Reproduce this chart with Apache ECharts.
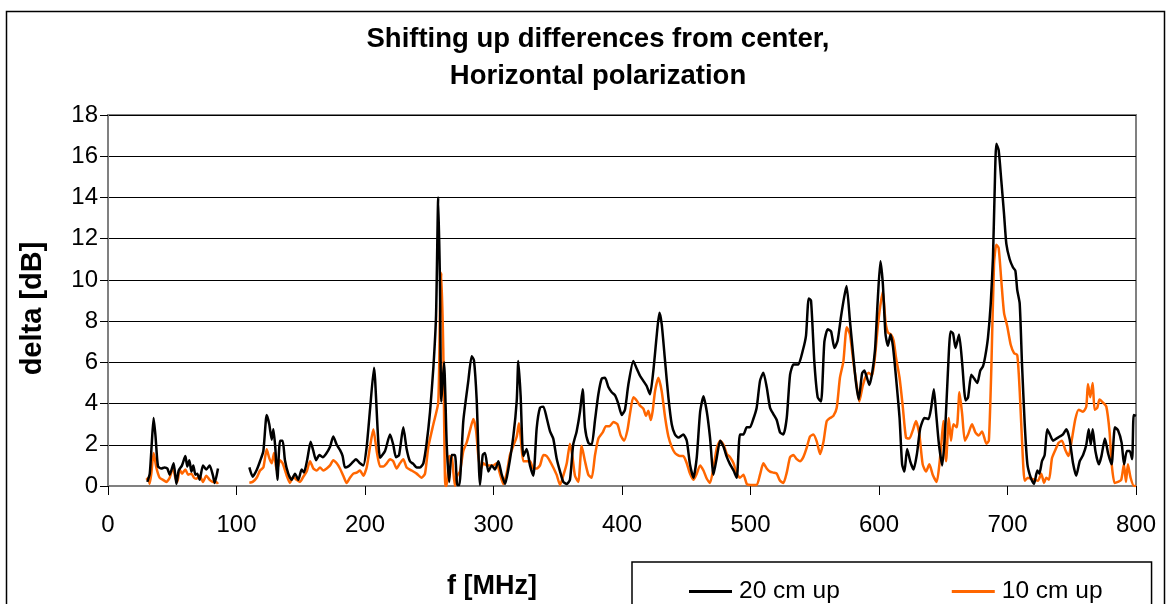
<!DOCTYPE html>
<html><head><meta charset="utf-8">
<script src="https://cdn.jsdelivr.net/npm/echarts@6/dist/echarts.min.js"></script>
<style>html,body{margin:0;padding:0;background:#fff}#c{width:1166px;height:604px}</style>
</head><body><div id="c"></div>
<script>
var seriesNames = ['20 cm up', '10 cm up'];
var xTicks = [0,100,200,300,400,500,600,700,800];
var yTicks = [0,2,4,6,8,10,12,14,16,18];

// "20 cm up" (black): frequency [MHz] and delta [dB]; '-' marks the gap
var freq20 = [30.6,32.5,34,35.5,37,38.9,41.5,44,46.2,48,51.1,53.2,55,57.6,60.2,61.7,63.3,64.9,66.4,68,69.5,71.3,73.9,76.5,79.1,81.7,83,85.6,
  97,
  110,112.6,115.7,118.3,120.9,123.5,125.5,127.4,128.7,130.2,131.8,133.9,135.9,137.7,140.3,142.9,145.5,148.1,150.7,152.5,155.1,157.7,159.8,161.9,164.5,167.1,169.6,172.8,175.3,178,180.5,182.6,184.4,187,189.6,193,196.1,198.7,201.3,203.9,207,211.7,215.6,219.5,222,224.1,226.5,229.8,232.4,235,237.6,240.2,242.8,245.4,248,250.6,253.2,255.3,257,258.3,259.4,261.5,263.6,265.5,267.4,270,271.8,273.4,276.5,280.4,283,284.8,286.9,289.5,291.6,293.4,296,298.6,301.2,303.8,306.4,309,311.5,315.4,318.1,319.3,321.1,323.2,325.8,328.4,331,333.6,336.2,338.8,341.4,344,346.5,349.1,351.8,354.3,357,359.5,362,364.7,367.3,369.4,371.2,373.8,376.4,379,381.6,384.2,386.8,389.4,392,394.6,397.1,399.8,402.3,404.9,408.8,411.4,414,416.6,419.2,421.8,424.4,427.1,429.1,430.9,433.5,436.1,438.7,441.2,443.9,447.7,450.4,452.9,455.6,458.2,460.8,463.4,466,468.5,471.2,473.8,476.4,479,481.6,484.1,486.8,489.3,491.8,494.5,497.1,499.6,502.2,504.8,507.4,510,512.6,515.2,517.7,520.4,523,525.6,528.2,530.8,533.4,535.4,537.3,540.6,543.2,545.3,547.1,549.7,552.3,554.9,557.5,560.1,562.7,565.3,567.8,570.4,573,574.8,577.4,580,582.1,584.2,586.8,588.6,590.4,592.5,594.6,596.9,599,601.1,603,605,606.9,609,610.8,613.2,616,618,619.8,621.9,624.3,626.9,629.5,632.1,635.4,638.5,640.6,642.7,644.5,646.6,649.2,651.3,653.6,655.7,657.6,659.6,662.3,664.8,667.4,669.3,671.8,674.2,676.5,678.8,680.9,682.7,684.8,686.9,688.7,690,691.3,693.1,695.2,697.3,699.1,701.7,704.3,706.1,707.6,709.5,711.3,713.4,715.5,718.1,720.6,723.2,724.8,726.8,728.9,730.9,733,735.4,738,740.6,743.2,745.8,748.4,751,753.5,756.2,758.8,761.3,763.2,764.8,766.3,768.4,771.1,773.1,775.8,778.4,781,783.6,786,788.8,790.7,792.9,795.1,797,798.2,800];
var delta20 = [0.2,0.6,2.0,3.3,2.4,0.95,0.85,0.9,0.85,0.55,1.1,0.1,0.75,1.0,1.45,0.95,1.25,0.7,1.0,0.55,0.6,0.3,1.0,0.8,1.0,0.5,0.15,0.85,
  '-',
  0.9,0.45,0.78,1.2,1.7,3.45,3.0,2.25,2.75,1.85,0.3,2.2,2.2,1.25,0.6,0.3,0.6,0.3,0.8,0.65,1.3,2.15,1.7,1.25,1.5,1.4,1.55,1.9,2.4,2.0,1.75,1.45,0.9,0.95,1.1,1.3,1.1,1.0,1.9,3.7,5.74,1.37,1.7,2.5,2.0,1.4,1.5,2.85,1.8,1.2,1.07,0.9,0.9,1.1,2.1,3.6,5.74,8.3,14.0,10.0,4.1,6.0,2.0,0.2,1.5,1.5,0.05,0.05,3.15,5.1,6.3,6.1,4.2,0.05,1.5,1.6,0.7,1.0,0.8,1.2,0.55,0.1,0.8,2.4,4.15,6.07,4.4,1.45,1.8,1.0,0.5,2.8,3.8,3.85,3.3,2.65,2.3,1.35,0.7,0.2,0.1,0.3,2.0,2.65,3.6,4.7,2.85,2.1,2.0,3.2,4.45,5.2,5.25,4.8,4.55,4.4,4.0,3.45,3.7,4.9,6.07,5.7,5.35,5.1,4.85,4.45,5.6,7.36,8.4,7.85,6.07,4.3,3.0,2.5,2.35,2.5,2.2,1.05,0.4,1.4,3.6,4.35,3.6,2.35,0.55,1.4,2.2,1.9,1.4,1.05,0.75,0.4,2.5,2.5,2.85,2.85,3.25,3.8,5.1,5.5,4.8,3.8,3.5,3.2,2.6,2.5,3.3,5.4,5.9,5.9,5.9,6.55,7.3,9.1,9.0,6.0,4.3,4.1,7.0,7.6,7.5,6.7,7.05,8.2,9.2,9.7,8.0,6.3,5.0,4.2,5.45,5.6,5.3,4.9,5.45,6.6,9.0,10.9,9.8,7.4,6.8,7.35,6.8,5.3,3.3,1.05,0.7,1.8,1.2,0.8,1.55,2.8,3.3,3.25,3.8,4.7,3.5,2.05,1.0,2.5,5.5,7.5,7.4,6.7,7.35,5.9,4.15,4.3,5.4,5.2,5.0,5.6,5.8,6.3,7.2,8.8,11.1,14.3,16.6,16.3,14.8,13.2,11.75,11.0,10.6,10.45,9.5,8.85,5.9,3.0,1.05,0.4,0.1,0.75,0.6,1.2,1.5,2.75,2.5,2.2,2.3,2.4,2.5,2.75,2.25,1.1,0.5,1.2,1.5,2.0,2.75,2.0,2.75,1.7,1.05,1.45,2.3,1.55,1.05,2.85,2.7,2.1,1.05,1.7,1.7,1.3,3.45,3.4];

// "10 cm up" (orange)
var freq10 = [29.8,31.6,32.4,33.7,35.5,37.6,40.2,42.8,45.4,48,50.6,52.4,54,55.8,57.6,60.2,62.3,64.9,66.9,68.7,71.3,73.9,76.5,79.1,81.7,84.3,85.6,
  97,
  110,112.6,115.7,118.3,120.9,123.5,125.5,127.4,129.2,131.3,133.9,135.9,139.1,141.6,144.2,146.8,149.4,152,154.6,157.2,159.8,162.4,165,167.6,170.2,172.8,175.3,178,180.5,183.1,185.7,188.3,190.9,193.5,196.1,198.7,201.3,203.9,206.5,209.1,211.7,214.3,216.9,219.5,222,224.6,227.2,229.8,232.4,236.3,240.2,244.1,246.7,249.3,253.2,257,258.3,259.4,260.9,262.5,263.6,265.6,267.6,270,271.8,273.9,276.5,279.1,281.7,284.3,286.4,288.2,290,292.1,294.7,297.3,299.9,302.5,305,307.6,310.2,312.8,315.4,318.1,319.8,321.1,323.2,325.8,328.4,331,333.6,336.2,338.8,341.4,344,346.5,349.1,351.8,354.3,357,359.5,361.6,363.4,366,368.6,371.2,373.8,376.4,379,381.6,385,387.5,390.3,393.3,396.4,399,401.6,404.2,406.2,408.8,411.4,414,416.6,418.7,420.5,422.4,423.9,425.7,428.3,430.9,433.5,436.1,438.7,441.2,445.1,447.7,450.4,452.9,455.6,458.2,460.8,463.4,466,468.5,471.2,473.8,476.4,479,481.6,484.1,486.8,489.3,491.8,494.5,497.1,500,504.8,507.4,510,512.6,515.2,517.7,520.4,523,525.6,528.2,530.8,533.4,536,538.5,541.1,543.7,546.3,548.9,551.6,554.1,556.8,559.3,561.9,564.5,567.1,569.6,572.3,574.9,577.4,580,582.6,584.7,587.3,589.9,592,594.6,596.9,599,600.8,603,605,606.9,609.3,611.4,613.2,616,618.5,621,623.6,626.3,628.8,631.4,634,636.6,639.2,641.8,644.9,647,648.5,650.1,652.2,654.3,656,657.9,660.5,662.6,664.7,666.8,669.3,672.4,675,677.6,680.2,683.6,685.5,687.5,689.5,691.3,693.1,695.2,697.3,699.8,702.5,705.1,707.6,709.5,711.3,713.4,715.9,718.5,721.1,723.7,726.3,728.4,730.2,732.3,734.6,737.2,739.8,742.4,745,747.6,750.2,752.8,755.4,758.8,761.3,762.6,764.4,766.3,767.8,769.9,771.6,774.3,776.9,779.4,781.1,783.3,785.9,788.5,790.6,792.2,793.7,795.8,798.4,800];
var delta10 = [0.3,0.4,0.1,0.6,1.6,0.9,0.4,0.3,0.2,0.4,0.9,0.4,0.2,0.8,0.6,0.8,0.55,0.6,0.4,0.35,0.5,0.2,0.5,0.3,0.2,0.2,0.1,
  '-',
  0.16,0.2,0.4,0.75,0.9,1.78,1.35,1.1,1.6,0.75,1.25,1.1,0.5,0.15,0.45,0.3,0.2,0.45,0.7,1.2,0.85,0.75,0.9,0.75,0.85,1.0,1.25,1.1,0.85,0.5,0.15,0.4,0.6,0.65,0.75,0.5,0.9,1.9,2.75,1.7,0.95,0.95,1.1,1.3,1.2,0.85,1.1,1.3,0.9,0.75,0.6,0.4,0.6,1.9,3.0,4.05,8.35,10.35,6.7,0.0,0.0,1.45,1.4,0.0,0.5,0.7,1.7,2.1,2.7,3.25,2.7,1.45,0.8,1.1,1.0,1.0,1.0,1.1,0.6,0.1,0.6,1.5,1.95,2.4,3.05,2.4,1.2,1.2,1.2,0.85,0.85,1.0,1.5,1.45,1.2,0.9,0.55,0.05,0.5,1.1,2.05,1.35,0.5,0.2,1.95,1.2,0.55,0.4,1.5,2.3,2.6,2.9,2.9,3.1,3.0,2.45,2.2,2.7,3.5,4.3,4.15,3.9,3.75,3.4,3.65,3.2,3.65,4.6,5.25,4.6,3.35,2.4,1.9,1.6,1.45,1.45,1.1,0.6,0.3,0.6,1.0,0.75,0.35,0.15,0.9,1.85,2.2,2.0,1.55,1.4,1.1,0.6,0.4,0.55,0.1,0.05,0.05,0.55,1.1,0.85,0.7,0.65,0.6,0.25,0.15,0.65,1.4,1.5,1.3,1.2,1.4,1.85,2.4,2.5,2.15,1.55,2.15,3.15,3.3,3.4,3.8,5.25,6.05,7.7,7.35,6.05,4.9,4.1,4.85,5.35,5.5,5.35,6.3,7.7,8.65,9.45,8.0,7.45,7.35,7.05,6.25,5.25,3.85,2.35,2.3,2.7,3.15,2.5,1.05,0.7,1.05,0.55,0.2,1.05,2.05,3.15,1.2,3.3,2.2,3.0,2.85,4.55,3.5,2.2,2.5,3.0,2.6,2.45,2.65,2.05,2.2,5.9,10.75,11.7,11.55,9.95,8.4,7.75,6.85,6.45,6.35,4.6,2.2,0.25,0.4,0.35,0.3,0.25,0.6,0.15,0.4,0.3,1.35,1.75,2.1,2.2,1.75,1.45,2.3,3.25,3.7,3.6,3.85,4.95,4.3,5.0,3.7,3.8,4.2,4.05,3.85,2.65,1.05,0.15,0.2,0.3,1.05,0.2,1.05,0.4,0.0,0.0];

function pairs(f, d) { return f.map(function (x, i) { return [x, d[i]]; }); }

var chart = echarts.init(document.getElementById('c'), null, {renderer: 'canvas'});
var FONT = '"Liberation Sans", Arial, sans-serif';
chart.setOption({
  animation: false,
  backgroundColor: '#ffffff',
  title: {
    text: 'Shifting up differences from center,\nHorizontal polarization',
    left: 593, top: 16, textAlign: 'center',
    textStyle: {fontFamily: FONT, fontWeight: 'bold', fontSize: 27.5, lineHeight: 37, color: '#000'}
  },
  grid: {left: 108, right: 30, top: 115, bottom: 118, show: true, borderColor: '#808080', borderWidth: 2, containLabel: false},
  legend: {
    data: seriesNames,
    left: 632, top: 562,
    orient: 'horizontal',
    itemWidth: 43, itemHeight: 3,
    itemGap: 112,
    icon: 'rect',
    padding: [17, 49, 20, 57],
    borderColor: '#000', borderWidth: 1.5, borderRadius: 0,
    backgroundColor: '#fff',
    textStyle: {fontFamily: FONT, fontSize: 24.5, color: '#000', padding: [0, 0, 0, 2]}
  },
  xAxis: {
    type: 'value', min: 0, max: 800, interval: 100,
    axisLine: {show: true, onZero: false, lineStyle: {color: '#808080', width: 2}},
    axisTick: {show: true, inside: false, length: 9, lineStyle: {color: '#000', width: 1}},
    axisLabel: {fontFamily: FONT, fontSize: 24, color: '#000', margin: 27,
      formatter: function (v) { return xTicks.indexOf(v) >= 0 ? String(v) : ''; }},
    splitLine: {show: false}
  },
  yAxis: {
    type: 'value', min: 0, max: 18, interval: 2,
    name: 'delta [dB]', nameLocation: 'middle', nameGap: 61,
    nameTextStyle: {fontFamily: FONT, fontWeight: 'bold', fontSize: 29, color: '#000', padding: [0, 16, 0, 0]},
    axisLine: {show: true, lineStyle: {color: '#808080', width: 2}},
    axisTick: {show: true, inside: false, length: 8, lineStyle: {color: '#000', width: 1}},
    axisLabel: {fontFamily: FONT, fontSize: 24, color: '#000', margin: 10,
      formatter: function (v) { return yTicks.indexOf(v) >= 0 ? String(v) : ''; }},
    splitLine: {show: true, lineStyle: {color: '#000', width: 1}}
  },
  graphic: [
    {type: 'rect', left: 4, top: 9, shape: {width: 1158, height: 620},
      style: {fill: 'none', stroke: '#000', lineWidth: 1.5}, silent: true, z: -1},
    {type: 'text', left: 447, top: 573, style: {text: 'f [MHz]', font: 'bold 27px ' + FONT, fill: '#000'}}
  ],
  series: [
    {name: seriesNames[0], type: 'line', data: pairs(freq20, delta20), showSymbol: false, smooth: 0.2,
      connectNulls: false, color: '#000000', lineStyle: {color: '#000000', width: 2.5}, z: 3},
    {name: seriesNames[1], type: 'line', data: pairs(freq10, delta10), showSymbol: false, smooth: 0.2,
      connectNulls: false, color: '#ff6600', lineStyle: {color: '#ff6600', width: 2.5}, z: 2}
  ]
});
</script>
</body></html>
